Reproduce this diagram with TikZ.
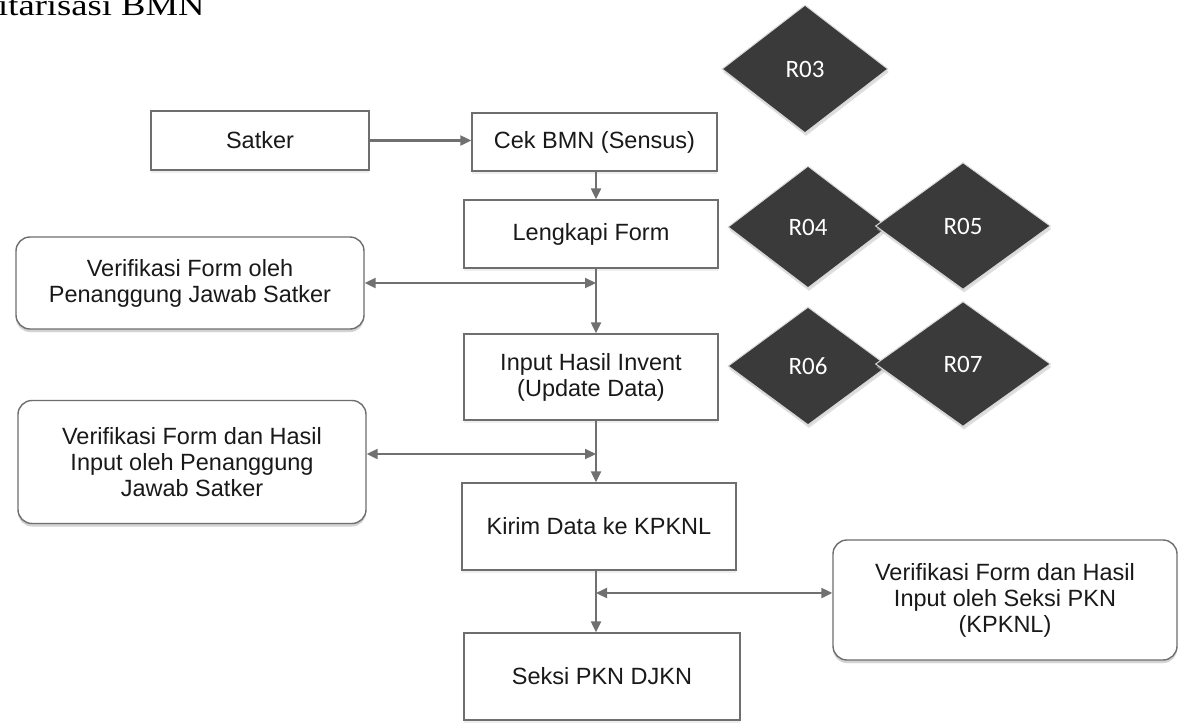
\documentclass[tikz,border=0pt]{standalone}
\usepackage{fontspec}
\setmainfont{Liberation Sans}
\newfontfamily\boxfont{Liberation Sans}
\newfontfamily\diafont{Carlito}
\newfontfamily\titlefont[FakeStretch=1.22]{Liberation Serif}
\usetikzlibrary{shapes.geometric,arrows.meta,shadows}
\definecolor{lineg}{HTML}{707070}
\definecolor{boxg}{HTML}{6E6E6E}
\definecolor{diag}{HTML}{3A3A3A}
\begin{document}
\begin{tikzpicture}[x=1pt,y=-1pt,
 proc/.style={draw=boxg, line width=1.4pt, fill=white, inner sep=0pt, align=center,
   font=\boxfont\fontsize{23.5}{26}\selectfont, text=black!90,
   drop shadow={fill=gray!25, shadow xshift=0pt, shadow yshift=-3pt}},
 vbox/.style={proc, rounded corners=14pt,
   drop shadow={fill=gray!55, shadow xshift=0pt, shadow yshift=-3pt}},
 dia/.style={shape=diamond, fill=diag, draw=white!85!black, line width=1pt, inner sep=0pt,
   text=white, font=\diafont\fontsize{25}{28}\selectfont,
   drop shadow={fill=gray!50, shadow xshift=1pt, shadow yshift=-3pt}},
 flow/.style={draw=lineg, line width=2.2pt, -{Triangle[length=11pt,width=10pt]}},
 both/.style={draw=lineg, line width=2.2pt, {Triangle[length=11pt,width=10pt]}-{Triangle[length=11pt,width=10pt]}},
]
\useasboundingbox (0,0) rectangle (1178,724);
\fill[white] (0,0) rectangle (1178,724);

\node[anchor=base west, inner sep=0pt, font=\titlefont\fontsize{30}{30}\selectfont] (title) at (-2,15) {itarisasi BMN};

\coordinate (sp) at (596,0);

\node[proc, minimum width=218pt, minimum height=59pt] (sat) at (260,140.5) {Satker};
\node[proc, minimum width=245pt, minimum height=58pt] (cek) at (594.5,142) {Cek BMN (Sensus)};
\node[proc, minimum width=254pt, minimum height=68pt] (len) at (591,234) {Lengkapi Form};
\node[proc, minimum width=254pt, minimum height=86pt] (inp) at (591,377) {Input Hasil Invent\\(Update Data)};
\node[proc, minimum width=274pt, minimum height=87pt] (kir) at (599,526.5) {Kirim Data ke KPKNL};
\node[proc, minimum width=276pt, minimum height=87pt] (sek) at (602,676.5) {Seksi PKN DJKN};

\node[vbox, minimum width=348pt, minimum height=92pt] (v1) at (190,283) {Verifikasi Form oleh\\Penanggung Jawab Satker};
\node[vbox, minimum width=348pt, minimum height=123pt] (v2) at (192,462) {Verifikasi Form dan Hasil\\Input oleh Penanggung\\Jawab Satker};
\node[vbox, minimum width=344pt, minimum height=120pt] (v3) at (1005,600) {Verifikasi Form dan Hasil\\Input oleh Seksi PKN\\(KPKNL)};

\node[dia, minimum width=166pt, minimum height=128pt] (r3) at (805,69) {R03};
\node[dia, minimum width=160pt, minimum height=122pt] (r4) at (808,227) {R04};
\node[dia, minimum width=175pt, minimum height=127pt] (r5) at (963,226) {R05};
\node[dia, minimum width=160pt, minimum height=118pt] (r6) at (808,366) {R06};
\node[dia, minimum width=175pt, minimum height=125pt] (r7) at (963,364) {R07};

\draw[flow] (sat.east) -- (sat.east -| cek.west);
\draw[flow] (cek.south -| sp) -- (len.north -| sp);
\draw[flow] (len.south -| sp) -- (inp.north -| sp);
\draw[flow] (inp.south -| sp) -- (kir.north -| sp);
\draw[flow] (kir.south -| sp) -- (sek.north -| sp);

\draw[both] (v1.east) -- (v1.east -| sp);
\draw[both] ([yshift=8pt]v2.east) -- ([yshift=8pt]v2.east -| sp);
\draw[both] ([yshift=7pt]v3.west -| sp) -- ([yshift=7pt]v3.west);
\end{tikzpicture}
\end{document}
